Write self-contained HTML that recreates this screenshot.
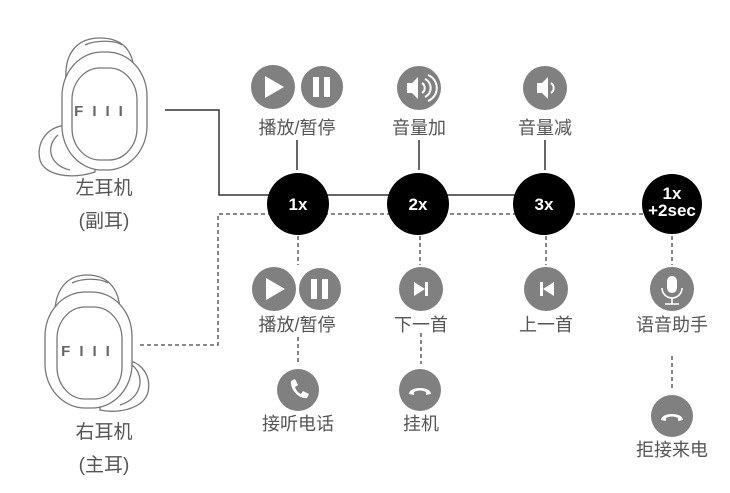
<!DOCTYPE html>
<html><head><meta charset="utf-8"><style>
html,body{margin:0;padding:0;background:#fff;}
svg{display:block;}
text{font-family:"Liberation Sans","Noto Sans CJK SC",sans-serif;}
.lbl{font-size:18px;fill:#555;text-anchor:middle;}
.big{font-size:19px;fill:#555;text-anchor:middle;}
.num{font-size:17px;font-weight:bold;fill:#fff;text-anchor:middle;}
.ic{fill:#808080;}
</style></head><body>
<svg width="730" height="493" viewBox="0 0 730 493" xmlns="http://www.w3.org/2000/svg">
<!-- left earbud -->
<g fill="#fff" stroke="#777" stroke-width="1.3">
  <path d="M66 80 C64 50 80 38 100 38 C120 38 136 48 134 80 Z"/>
  <path d="M85 45 C95 40 115 40 122 45"/>
  <path d="M70 125 C45 125 36 145 40 160 C44 175 70 180 95 172 L95 130 Z"/>
  <path d="M58 135 C46 145 48 165 70 170"/>
  <rect x="62" y="52" width="85" height="118" rx="40" ry="44"/>
  <rect x="72" y="68" width="65" height="92" rx="28" ry="32"/>
</g>
<text x="103" y="116" font-size="15" font-weight="bold" fill="#666" text-anchor="middle" letter-spacing="9">FIII</text>
<text class="big" x="104" y="194">左耳机</text>
<text class="big" x="104" y="227">(副耳)</text>
<!-- right earbud -->
<g fill="#fff" stroke="#777" stroke-width="1.3">
  <path d="M55 320 C53 290 67 275 87 275 C107 275 122 288 120 320 Z"/>
  <path d="M72 283 C82 278 100 278 108 283"/>
  <path d="M110 360 C140 355 152 375 148 392 C144 408 120 414 100 410 L100 365 Z"/>
  <path d="M132 365 C145 375 143 398 120 405"/>
  <rect x="45" y="292" width="87" height="116" rx="40" ry="44"/>
  <rect x="57" y="307" width="65" height="92" rx="28" ry="32"/>
</g>
<text x="90" y="356" font-size="15" font-weight="bold" fill="#666" text-anchor="middle" letter-spacing="9">FIII</text>
<text class="big" x="104" y="438">右耳机</text>
<text class="big" x="104" y="471">(主耳)</text>
<!-- connectors -->
<g stroke="#333" stroke-width="1.5" fill="none">
  <polyline points="165,110 219,110 219,195 545,195"/>
  <line x1="297" y1="140" x2="297" y2="170"/>
  <line x1="419" y1="140" x2="419" y2="170"/>
  <line x1="545" y1="140" x2="545" y2="170"/>
</g>
<g stroke="#444" stroke-width="1.3" fill="none" stroke-dasharray="4,3">
  <polyline points="140,345 218,345 218,214 672,214"/>
  <line x1="298" y1="236" x2="298" y2="265"/>
  <line x1="298" y1="337" x2="298" y2="364"/>
  <line x1="420" y1="236" x2="420" y2="265"/>
  <line x1="421" y1="333" x2="421" y2="364"/>
  <line x1="546" y1="236" x2="546" y2="265"/>
  <line x1="672" y1="236" x2="672" y2="265"/>
  <line x1="672" y1="356" x2="672" y2="388"/>
</g>
<!-- black circles -->
<g fill="#000">
  <circle cx="298" cy="204" r="31"/>
  <circle cx="418" cy="204" r="31"/>
  <circle cx="544" cy="204" r="31"/>
  <circle cx="672" cy="204" r="30"/>
</g>
<text class="num" x="298" y="210">1x</text>
<text class="num" x="418" y="210">2x</text>
<text class="num" x="544" y="210">3x</text>
<text class="num" x="672" y="199" font-size="16">1x</text>
<text class="num" x="672" y="216" font-size="16">+2sec</text>
<!-- top icons -->
<circle class="ic" cx="273" cy="87" r="22"/>
<circle class="ic" cx="322" cy="87" r="22" stroke="#fff" stroke-width="2"/>
<path d="M265 76 L284 87 L265 98 Z" fill="#fff"/>
<rect x="313" y="77" width="6" height="20" fill="#fff"/><rect x="324" y="77" width="6" height="20" fill="#fff"/>
<text class="lbl" x="297" y="134">播放/暂停</text>
<circle class="ic" cx="419" cy="88" r="22"/>
<path d="M407 83 h5 l6 -6 v22 l-6 -6 h-5 Z" fill="#fff"/>
<path d="M422 83 a6 6 0 0 1 0 10 M425 79 a10 10 0 0 1 0 18 M428 75 a14 14 0 0 1 0 26" stroke="#fff" stroke-width="2" fill="none"/>
<text class="lbl" x="419" y="134">音量加</text>
<circle class="ic" cx="545" cy="88" r="22"/>
<path d="M537 83 h5 l6 -6 v22 l-6 -6 h-5 Z" fill="#fff"/>
<path d="M551 83 a6 6 0 0 1 0 10" stroke="#fff" stroke-width="2" fill="none"/>
<text class="lbl" x="545" y="134">音量减</text>
<!-- bottom row -->
<circle class="ic" cx="274" cy="289" r="22"/>
<circle class="ic" cx="320" cy="289" r="22" stroke="#fff" stroke-width="2"/>
<path d="M266 278 L285 289 L266 300 Z" fill="#fff"/>
<rect x="311" y="279" width="6" height="20" fill="#fff"/><rect x="322" y="279" width="6" height="20" fill="#fff"/>
<text class="lbl" x="297" y="331">播放/暂停</text>
<circle class="ic" cx="421" cy="289" r="22"/>
<path d="M414 282 L425 289 L414 296 Z" fill="#fff"/><rect x="425" y="282" width="3" height="14" fill="#fff"/>
<text class="lbl" x="421" y="331">下一首</text>
<circle class="ic" cx="546" cy="289" r="22"/>
<path d="M554 282 L543 289 L554 296 Z" fill="#fff"/><rect x="540" y="282" width="3" height="14" fill="#fff"/>
<text class="lbl" x="546" y="331">上一首</text>
<circle class="ic" cx="672" cy="289" r="22"/>
<rect x="667" y="276" width="10" height="17" rx="5" fill="#fff"/>
<path d="M662 288 a10 10 0 0 0 20 0 M672 298 v6 M665 304 h14" stroke="#fff" stroke-width="1.6" fill="none"/>
<text class="lbl" x="672" y="331">语音助手</text>
<circle class="ic" cx="298" cy="390" r="21"/>
<path d="M291 381 l4 -2 3 6 -3 2 c1 3 3 6 6 7 l2 -3 6 3 -2 4 c-8 1 -17 -8 -16 -17 Z" fill="#fff"/>
<text class="lbl" x="298" y="430">接听电话</text>
<circle class="ic" cx="420" cy="390" r="21"/>
<path d="M409 394 c0 -8 22 -8 22 0 l-5 1 0 -3 c-4 -2 -8 -2 -12 0 l0 3 Z" fill="#fff"/>
<text class="lbl" x="421" y="430">挂机</text>
<circle class="ic" cx="672" cy="416" r="21"/>
<path d="M661 420 c0 -8 22 -8 22 0 l-5 1 0 -3 c-4 -2 -8 -2 -12 0 l0 3 Z" fill="#fff"/>
<text class="lbl" x="672" y="456">拒接来电</text>
</svg>
</body></html>
